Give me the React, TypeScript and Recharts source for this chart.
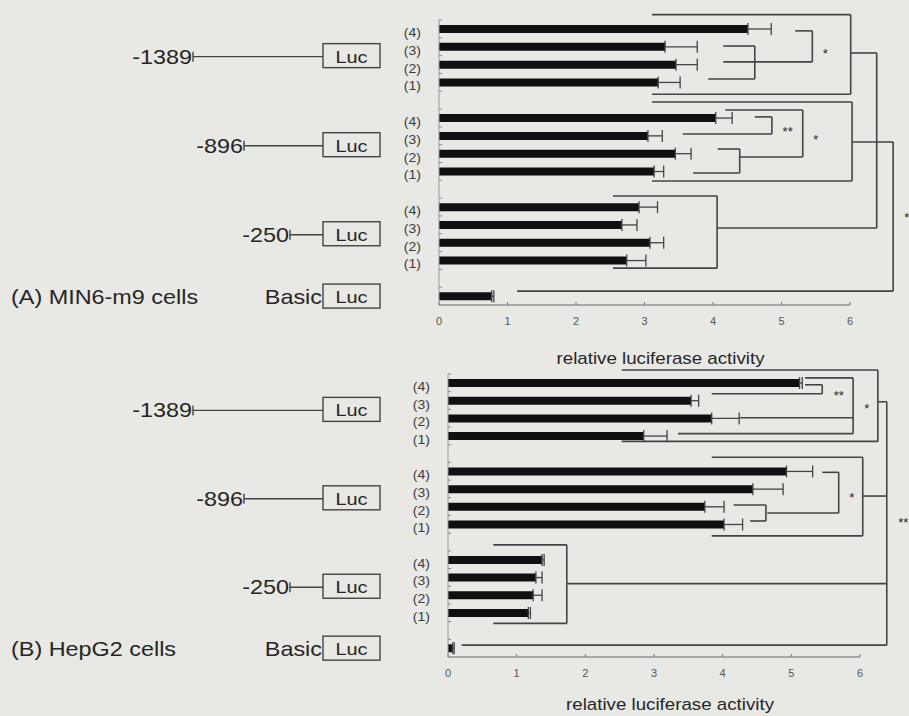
import React from "react";
import { BarChart, Bar, XAxis, YAxis, ErrorBar, ReferenceLine, ReferenceDot } from "recharts";

// rows from top to bottom: 4 conditions per construct, blank spacer rows, then Basic
const rowLabels = ["(4)", "(3)", "(2)", "(1)", "", "(4)", "(3)", "(2)", "(1)", "", "(4)", "(3)", "(2)", "(1)", "", ""];
const rowGroup = [0, 0, 0, 0, -1, 1, 1, 1, 1, -1, 2, 2, 2, 2, -1, 3];
const constructs = ["-1389", "-896", "-250", "Basic"];
const xTicks = [0, 1, 2, 3, 4, 5, 6];

// (A) MIN6-m9 cells
const min6Activity = [4.51, 3.3, 3.46, 3.2, null, 4.04, 3.05, 3.45, 3.14, null, 2.92, 2.67, 3.08, 2.74, null, 0.77];
const min6Upper = [4.85, 3.77, 3.77, 3.52, null, 4.28, 3.26, 3.68, 3.28, null, 3.19, 2.89, 3.28, 3.02, null, 0.8];

// (B) HepG2 cells
const hepg2Activity = [5.12, 3.54, 3.84, 2.85, null, 4.93, 4.44, 3.74, 4.02, null, 1.37, 1.28, 1.24, 1.17, null, 0.07];
const hepg2Upper = [5.16, 3.65, 4.24, 3.19, null, 5.31, 4.88, 4.02, 4.29, null, 1.4, 1.37, 1.37, 1.2, null, 0.09];

// significance brackets: vertical at x (activity units), arms = [row, arm start x]
const min6Brackets = [
  { x: 6.01, arms: [[-0.8, 3.11], [3.67, 3.11]] },
  { x: 6.39, arms: [[1.35, 6.01], [11.18, 4.06]] },
  { x: 4.06, arms: [[9.38, 2.54], [13.43, 2.54]] },
  { x: 6.03, arms: [[4.1, 3.11], [8.54, 3.11]] },
  { x: 6.63, arms: [[6.35, 6.03], [14.72, 1.14]] },
  { x: 4.61, arms: [[0.96, 4.15], [2.81, 3.93]] },
  { x: 5.45, arms: [[0.11, 5.2], [1.85, 4.15]] },
  { x: 4.86, arms: [[4.94, 4.61], [5.9, 3.56]] },
  { x: 4.39, arms: [[6.74, 4.07], [8.09, 3.71]] },
  { x: 5.31, arms: [[4.55, 4.18], [7.19, 4.39]] },
];
const min6Stars: [number, number, string][] = [
  [5.64, 1.29, "*"],
  [5.09, 5.67, "**"],
  [5.5, 6.12, "*"],
  [6.83, 10.5, "*"],
];

const hepg2Brackets = [
  { x: 6.26, arms: [[-0.73, 2.53], [3.31, 2.53]] },
  { x: 6.39, arms: [[1.07, 6.26], [6.4, 6.04], [11.35, 1.73], [14.83, 0.2]] },
  { x: 5.9, arms: [[-0.28, 5.2], [1.97, 4.25], [2.87, 3.35]] },
  { x: 5.45, arms: [[0.11, 5.2], [0.62, 3.84]] },
  { x: 6.04, arms: [[4.21, 3.84], [8.65, 3.84]] },
  { x: 5.69, arms: [[5.06, 5.45], [7.36, 4.65]] },
  { x: 4.63, arms: [[6.91, 4.16], [7.81, 4.4]] },
  { x: 1.73, arms: [[9.16, 0.66], [13.6, 0.66]] },
];
const hepg2Stars: [number, number, string][] = [
  [5.69, 0.62, "**"],
  [6.1, 1.35, "*"],
  [5.88, 6.4, "*"],
  [6.63, 7.81, "**"],
];

const STRETCH = 1.17;
const INK = "#262626";
const LINE = "#444444";
const FONT = "'Liberation Sans', Arial, sans-serif";
const PROMOTER_LEN: Record<string, number> = { "-1389": 130, "-896": 79, "-250": 33 };
const BOX_L = 323;
const BOX_W = 57;

// the hidden numeric row axis spans 0..n-1 over the full plot height,
// so the centre of band r sits at (r + 0.5) * (n - 1) / n
const N_ROWS = rowLabels.length;
const rowPos = (r: number) => ((r + 0.5) * (N_ROWS - 1)) / N_ROWS;

const groupCenters = constructs.map((_, g) => {
  const idx = rowGroup.map((v, i) => (v === g ? i : -1)).filter((i) => i >= 0);
  return rowPos(idx.reduce((a, b) => a + b, 0) / idx.length);
});

function buildRows(values: (number | null)[], upper: (number | null)[]) {
  return rowLabels.map((label, i) => {
    const v = values[i];
    const u = upper[i];
    return {
      row: `r${i}`,
      label,
      value: v,
      err: v == null || u == null ? null : [0, +(u - v).toFixed(2)],
    };
  });
}

function SText({ x, y, anchor = "start", size, children, fill = INK }: any) {
  return (
    <text
      transform={`translate(${x},${y}) scale(${STRETCH},1)`}
      textAnchor={anchor}
      fontSize={size}
      fontFamily={FONT}
      fill={fill}
    >
      {children}
    </text>
  );
}

function ConstructTick(props: any) {
  const { y, payload, title } = props;
  const g = groupCenters.findIndex((c) => Math.abs(c - payload.value) < 0.01);
  if (g < 0) return null;
  const name = constructs[g];
  const len = PROMOTER_LEN[name];
  return (
    <g>
      <rect x={BOX_L} y={y - 12} width={BOX_W} height={24} fill="none" stroke={LINE} strokeWidth={1.4} />
      <SText x={BOX_L + BOX_W / 2} y={y + 7} anchor="middle" size={17}>Luc</SText>
      {name === "Basic" ? (
        <>
          <SText x={BOX_L - 1} y={y + 8} anchor="end" size={20}>Basic</SText>
          <SText x={11} y={y + 8} size={20}>{title}</SText>
        </>
      ) : (
        <>
          <line x1={BOX_L - len} x2={BOX_L} y1={y + 1} y2={y + 1} stroke={LINE} strokeWidth={1.4} />
          <line x1={BOX_L - len} x2={BOX_L - len} y1={y - 4} y2={y + 6} stroke={LINE} strokeWidth={1.4} />
          <SText x={BOX_L - len - 1} y={y + 8} anchor="end" size={20}>{name}</SText>
        </>
      )}
    </g>
  );
}

function RowTick(props: any) {
  const { y, payload, plotLeft, band } = props;
  const i = parseInt(String(payload.value).slice(1), 10);
  return (
    <g>
      <line x1={plotLeft} x2={plotLeft + 3} y1={y - band / 2} y2={y - band / 2} stroke="#888" strokeWidth={1} />
      {rowLabels[i] ? (
        <SText x={plotLeft - 18} y={y + 8} anchor="end" size={12} fill="#3c3c3c">{rowLabels[i]}</SText>
      ) : null}
    </g>
  );
}

function XTick(props: any) {
  const { x, y, payload } = props;
  return (
    <g>
      <line x1={x} x2={x} y1={y - 3} y2={y} stroke="#777" strokeWidth={1} />
      <text x={x} y={y + 20} textAnchor="middle" fontSize={11} fontFamily={FONT} fill="#555">
        {payload.value}
      </text>
    </g>
  );
}

function AxisTitle(props: any) {
  const vb = props.viewBox || {};
  return (
    <SText x={vb.x + vb.width / 2 + 16} y={vb.y + props.dy} anchor="middle" size={16}>
      relative luciferase activity
    </SText>
  );
}

function Panel({ values, upper, brackets, stars, title, top, height, margin, plotLeft, titleDy }: any) {
  const data = buildRows(values, upper);
  const band = (height - margin.top - margin.bottom - titleDy.axis) / N_ROWS;
  return (
    <div style={{ position: "absolute", left: 0, top, width: 909, height }}>
      <BarChart width={909} height={height} data={data} layout="vertical" margin={margin} barCategoryGap={0}>
        <XAxis
          type="number"
          domain={[0, 6]}
          ticks={xTicks}
          interval={0}
          allowDataOverflow
          height={titleDy.axis}
          tickSize={0}
          tickMargin={0}
          stroke="#666"
          tick={<XTick />}
          label={<AxisTitle dy={titleDy.title} />}
        />
        <YAxis
          yAxisId="num"
          type="number"
          domain={[0, N_ROWS - 1]}
          allowDataOverflow
          ticks={groupCenters}
          interval={0}
          width={399}
          axisLine={false}
          tickLine={false}
          tickSize={0}
          tickMargin={0}
          tick={<ConstructTick title={title} />}
        />
        <YAxis
          yAxisId="cat"
          type="category"
          dataKey="row"
          width={plotLeft - 399}
          interval={0}
          axisLine={false}
          tickLine={false}
          tickSize={0}
          tick={<RowTick plotLeft={plotLeft} band={band} />}
        />
        <ReferenceLine x={0} yAxisId="num" stroke="#9a9a9a" strokeWidth={1} />
        <Bar yAxisId="cat" dataKey="value" fill="#101010" barSize={8} isAnimationActive={false}>
          <ErrorBar dataKey="err" direction="x" width={6} stroke="#444" strokeWidth={1.3} isAnimationActive={false} />
        </Bar>
        {brackets.map((b: any, bi: number) => {
          const rows = b.arms.map((a: number[]) => rowPos(a[0]));
          return (
            <React.Fragment key={`b${bi}`}>
              <ReferenceLine
                yAxisId="num"
                ifOverflow="visible"
                stroke={LINE}
                strokeWidth={1.6}
                segment={[{ x: b.x, y: Math.min(...rows) }, { x: b.x, y: Math.max(...rows) }]}
              />
              {b.arms.map((a: number[], ai: number) => (
                <ReferenceLine
                  key={`a${bi}-${ai}`}
                  yAxisId="num"
                  ifOverflow="visible"
                  stroke={LINE}
                  strokeWidth={1.6}
                  segment={[{ x: a[1], y: rowPos(a[0]) }, { x: b.x, y: rowPos(a[0]) }]}
                />
              ))}
            </React.Fragment>
          );
        })}
        {stars.map((s: [number, number, string], si: number) => (
          <ReferenceDot
            key={`s${si}`}
            x={s[0]}
            y={rowPos(s[1])}
            yAxisId="num"
            r={1}
            ifOverflow="visible"
            shape={(p: any) => (
              <text x={p.cx} y={p.cy + 6} textAnchor="middle" fontSize={13} fontFamily={FONT} fill={INK}>
                {s[2]}
              </text>
            )}
          />
        ))}
      </BarChart>
    </div>
  );
}

export default function App() {
  return (
    <div style={{ position: "absolute", left: 0, top: 0, width: 909, height: 716, background: "#e8e8e5", overflow: "hidden" }}>
      <Panel
        values={min6Activity}
        upper={min6Upper}
        brackets={min6Brackets}
        stars={min6Stars}
        title="(A) MIN6-m9 cells"
        top={0}
        height={368}
        margin={{ top: 20, right: 59, bottom: 0, left: 0 }}
        plotLeft={439}
        titleDy={{ axis: 63, title: 59 }}
      />
      <Panel
        values={hepg2Activity}
        upper={hepg2Upper}
        brackets={hepg2Brackets}
        stars={hepg2Stars}
        title="(B) HepG2 cells"
        top={368}
        height={348}
        margin={{ top: 6, right: 49, bottom: 0, left: 0 }}
        plotLeft={448}
        titleDy={{ axis: 59, title: 53 }}
      />
    </div>
  );
}
